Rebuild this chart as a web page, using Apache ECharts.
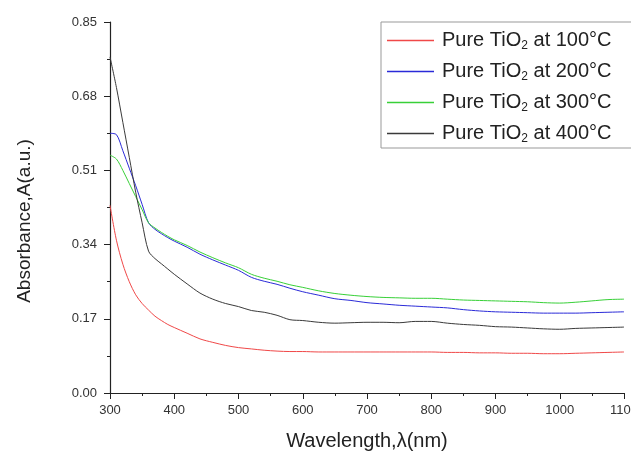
<!DOCTYPE html>
<html>
<head>
<meta charset="utf-8">
<script src="https://cdn.jsdelivr.net/npm/echarts@6/dist/echarts.min.js"></script>
<style>
  html, body { margin: 0; padding: 0; background: #fff; }
  #chart { width: 631px; height: 457px; }
</style>
</head>
<body>
<div id="chart"></div>
<script>
// Wavelength grid (nm) shared by all four spectra
const wavelengths = [300, 310, 320, 330, 340, 350, 360, 370, 380, 390, 400, 420, 440, 460, 480, 500,
  520, 540, 560, 580, 600, 625, 650, 675, 700, 725, 750, 775, 800, 825, 850, 875, 900, 925, 950,
  975, 1000, 1025, 1050, 1075, 1100];

// Absorbance of pure TiO2 annealed at each temperature
const abs100 = [0.430, 0.350, 0.295, 0.255, 0.225, 0.205, 0.190, 0.176, 0.166, 0.157, 0.150, 0.137,
  0.124, 0.116, 0.109, 0.104, 0.101, 0.098, 0.096, 0.095, 0.095, 0.094, 0.094, 0.094, 0.094, 0.094,
  0.094, 0.094, 0.094, 0.093, 0.093, 0.092, 0.092, 0.091, 0.091, 0.090, 0.090, 0.091, 0.092, 0.093, 0.094];
const abs200 = [0.595, 0.592, 0.555, 0.515, 0.475, 0.432, 0.390, 0.375, 0.365, 0.356, 0.348, 0.334,
  0.318, 0.305, 0.293, 0.281, 0.265, 0.256, 0.249, 0.240, 0.232, 0.224, 0.216, 0.212, 0.207, 0.204,
  0.201, 0.199, 0.197, 0.195, 0.191, 0.188, 0.186, 0.185, 0.184, 0.183, 0.183, 0.183, 0.184, 0.185, 0.186];
const abs300 = [0.545, 0.536, 0.510, 0.480, 0.450, 0.420, 0.390, 0.378, 0.368, 0.359, 0.351, 0.338,
  0.323, 0.310, 0.298, 0.287, 0.272, 0.263, 0.256, 0.248, 0.242, 0.234, 0.228, 0.224, 0.221, 0.219,
  0.218, 0.217, 0.217, 0.215, 0.213, 0.212, 0.211, 0.210, 0.209, 0.207, 0.206, 0.208, 0.211, 0.214, 0.215];
const abs400 = [0.770, 0.700, 0.620, 0.540, 0.460, 0.390, 0.325, 0.308, 0.296, 0.284, 0.272, 0.250,
  0.229, 0.215, 0.205, 0.198, 0.189, 0.185, 0.178, 0.168, 0.166, 0.162, 0.160, 0.161, 0.162, 0.162,
  0.161, 0.164, 0.164, 0.160, 0.157, 0.155, 0.152, 0.151, 0.149, 0.147, 0.146, 0.148, 0.149, 0.150, 0.151];

const seriesNames = ['Pure TiO2 at 100°C', 'Pure TiO2 at 200°C', 'Pure TiO2 at 300°C', 'Pure TiO2 at 400°C'];
const seriesValues = [abs100, abs200, abs300, abs400];
const seriesColors = ['#f04848', '#2a2ad8', '#38d038', '#3a3a3a'];

const xTicks = { min: 300, max: 1100, step: 100 };
const yTicks = { min: 0, max: 0.85, step: 0.17 };

const FONT = '"Liberation Sans", Arial, sans-serif';

const chart = echarts.init(document.getElementById('chart'), null, { renderer: 'canvas' });

const series = seriesNames.map((name, i) => ({
  name: name,
  type: 'line',
  data: wavelengths.map((w, j) => [w, seriesValues[i][j]]),
  symbol: 'none',
  smooth: 0.3,
  lineStyle: { color: seriesColors[i], width: 1 },
  itemStyle: { color: seriesColors[i] },
  emphasis: { disabled: true },
  animation: false
}));

chart.setOption({
  backgroundColor: '#ffffff',
  animation: false,
  grid: { left: 110, right: 7, top: 22, bottom: 64, containLabel: false, outerBoundsMode: 'none' },
  xAxis: {
    type: 'value',
    min: xTicks.min,
    max: xTicks.max,
    interval: xTicks.step,
    name: 'Wavelength,λ(nm)',
    nameLocation: 'middle',
    nameGap: 38,
    nameTextStyle: { fontFamily: FONT, fontSize: 20, color: '#222' },
    axisLine: { lineStyle: { color: '#222', width: 1.2 } },
    axisTick: { show: true, inside: false, length: 6, lineStyle: { color: '#222' } },
    minorTick: { show: true, splitNumber: 2, length: 3, lineStyle: { color: '#222' } },
    splitLine: { show: false },
    axisLabel: {
      fontFamily: FONT, fontSize: 13, color: '#333', margin: 11,
      showMaxLabel: true, hideOverlap: false,
      formatter: v => String(v)
    }
  },
  yAxis: {
    type: 'value',
    min: yTicks.min,
    max: yTicks.max,
    interval: yTicks.step,
    axisLine: { show: true, lineStyle: { color: '#222', width: 1.2 } },
    axisTick: { show: true, inside: false, length: 6, lineStyle: { color: '#222' } },
    minorTick: { show: true, splitNumber: 2, length: 3, lineStyle: { color: '#222' } },
    splitLine: { show: false },
    axisLabel: {
      fontFamily: FONT, fontSize: 13, color: '#333', margin: 13,
      formatter: v => v.toFixed(2)
    }
  },
  legend: {
    left: 381,
    top: 22,
    orient: 'vertical',
    align: 'left',
    padding: [7, 30, 3, 6],
    itemGap: 8,
    icon: 'rect',
    itemWidth: 47,
    itemHeight: 1.6,
    backgroundColor: '#fff',
    borderColor: '#999',
    borderWidth: 1,
    data: seriesNames.map((name, i) => ({
      name: name,
      itemStyle: { color: seriesColors[i], borderWidth: 0 }
    })),
    formatter: name => name.replace('TiO2', 'TiO{sub|2}'),
    textStyle: {
      fontFamily: FONT, fontSize: 20, color: '#222', lineHeight: 23,
      padding: [0, 0, 0, 3],
      rich: {
        sub: { fontFamily: FONT, fontSize: 12, color: '#222', padding: [10, 0, 0, 0] }
      }
    }
  },
  graphic: [{
    type: 'text',
    x: 25,
    y: 221,
    rotation: Math.PI / 2,
    style: {
      text: 'Absorbance,A(a.u.)',
      fontFamily: FONT,
      fontSize: 19,
      fill: '#222',
      align: 'center',
      verticalAlign: 'middle'
    }
  }],
  series: series
});
</script>
</body>
</html>
